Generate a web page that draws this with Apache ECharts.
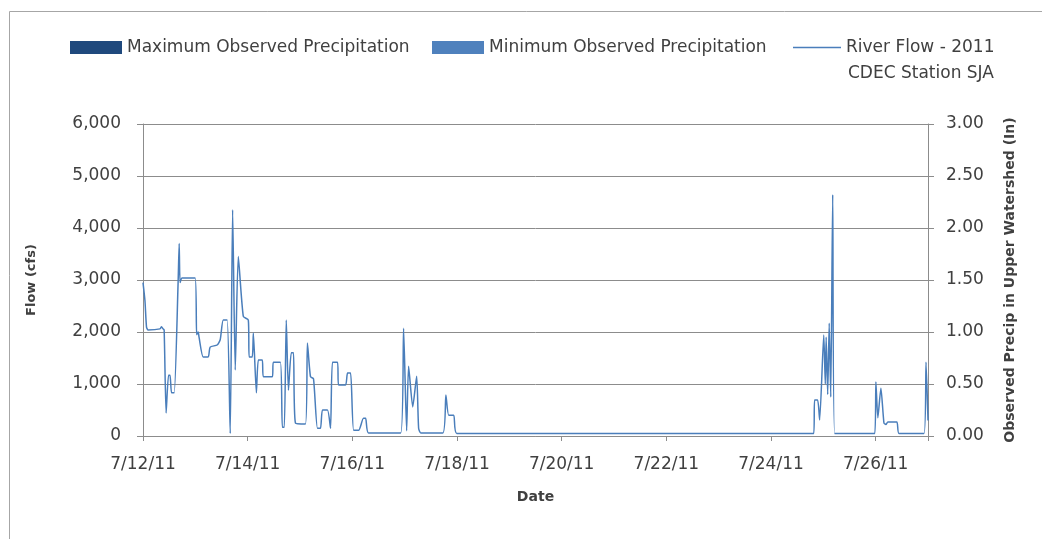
<!DOCTYPE html>
<html>
<head>
<meta charset="utf-8">
<script src="https://cdn.jsdelivr.net/npm/echarts@6/dist/echarts.min.js"></script>
<style>
html,body{margin:0;padding:0;background:#fff;}
#chart{width:1042px;height:539px;}
</style>
</head>
<body>
<div id="chart"></div>
<script>
// Date tick labels (every 2 days starting 7/12/11)
const dateTickLabels = ['7/12/11','7/14/11','7/16/11','7/18/11','7/20/11','7/22/11','7/24/11','7/26/11'];
// Hours since 7/12/11 00:00 for river flow readings
const flowHours = [0.0,0.9,1.6,2.3,7.8,8.5,9.2,9.7,10.6,11.7,12.4,13.1,14.3,16.1,16.6,17.0,17.9,23.9,24.6,25.3,25.7,27.6,29.9,30.8,34.0,35.4,36.8,38.6,40.0,41.1,42.3,43.7,46.0,48.3,48.7,50.1,50.6,52.0,52.9,54.7,55.2,59.3,59.8,63.0,63.9,64.8,65.7,66.7,68.0,69.0,69.9,74.5,75.4,76.8,78.2,80.0,81.4,82.3,84.6,86.0,86.9,89.2,89.7,92.9,93.8,95.2,96.6,98.9,101.1,102.1,103.4,118.2,119.5,120.9,121.8,123.7,125.5,126.4,127.4,137.5,138.9,140.2,142.5,143.9,307.6,308.0,309.4,310.3,312.2,312.9,313.3,314.0,314.7,315.4,316.3,317.2,335.6,336.1,337.0,338.4,339.8,340.7,341.6,345.7,346.7,358.2,359.1,360.0];
// River flow (cfs)
const flowValues = [2950,2600,2100,2040,2060,2100,2060,2040,440,1170,1170,830,830,2950,3700,2950,3040,3040,1950,2000,1900,1520,1520,1710,1750,1850,2230,2230,50,4350,1270,3450,2300,2230,1520,1520,1980,830,1460,1460,1140,1140,1420,1420,170,170,2230,880,1600,1600,250,230,1790,1140,1100,150,150,500,500,150,1420,1420,980,980,1210,1210,110,110,340,340,60,60,2070,100,1340,560,1150,150,60,60,790,400,400,50,50,690,690,310,1940,1000,1900,800,2170,750,4640,50,50,1040,350,920,250,220,270,270,50,50,1420,300];
// Precipitation (in) – no bars visible in the reference
const maxPrecip = [];
const minPrecip = [];

const flowData = flowHours.map((h, i) => [h, flowValues[i]]);

const FONT = 'DejaVu Sans';
const TXT = '#404040';
const GRID = '#8c8c8c';
const LEG = {color: TXT, fontSize: 17, fontFamily: FONT};

const chart = echarts.init(document.getElementById('chart'));
chart.setOption({
  animation: false,
  backgroundColor: '#ffffff',
  textStyle: {fontFamily: FONT},
  grid: {left: 143, right: 114, top: 124, bottom: 103, containLabel: false},
  legend: [
    {left: 70, top: 39, padding: 0, itemWidth: 52, itemHeight: 13, itemGap: 0, icon: 'rect',
     textStyle: LEG, data: ['Maximum Observed Precipitation']},
    {left: 432, top: 39, padding: 0, itemWidth: 52, itemHeight: 13, itemGap: 0, icon: 'rect',
     textStyle: LEG, data: ['Minimum Observed Precipitation']},
    {left: 793, top: 39, padding: 0, itemWidth: 48, itemHeight: 13, itemGap: 0,
     icon: 'path://M0,6 L48,6 L48,7.5 L0,7.5 Z',
     textStyle: LEG, data: ['River Flow - 2011']}
  ],
  graphic: [
    {type: 'rect', left: 7, top: 9, shape: {width: 1100, height: 600}, silent: true,
     style: {fill: 'none', stroke: '#a6a6a6', lineWidth: 1}},
    {type: 'text', left: 848, top: 65, silent: true,
     style: {text: 'CDEC Station SJA', fill: TXT, font: '17px "DejaVu Sans"'}}
  ],
  xAxis: {
    type: 'value', min: 0, max: 360, interval: 48,
    name: 'Date', nameLocation: 'middle', nameGap: 54,
    nameTextStyle: {color: TXT, fontWeight: 'bold', fontSize: 14, fontFamily: FONT},
    axisLine: {show: true, onZero: false, lineStyle: {color: GRID, width: 1}},
    axisTick: {show: true, inside: false, length: 5, lineStyle: {color: GRID}},
    axisLabel: {color: TXT, fontSize: 17, margin: 20, fontFamily: FONT,
      formatter: v => { const i = v / 48; return Number.isInteger(i) && dateTickLabels[i] ? dateTickLabels[i] : ''; }},
    splitLine: {show: false}
  },
  yAxis: [
    {
      type: 'value', min: 0, max: 6000, interval: 1000, position: 'left',
      name: 'Flow (cfs)', nameLocation: 'middle', nameGap: 105, nameRotate: 90,
      nameTextStyle: {color: TXT, fontWeight: 'bold', fontSize: 13, fontFamily: FONT},
      axisLine: {show: true, lineStyle: {color: GRID, width: 1}},
      axisTick: {show: true, inside: false, length: 6, lineStyle: {color: GRID}},
      axisLabel: {color: TXT, fontSize: 17, margin: 22, fontFamily: FONT,
        formatter: v => v.toLocaleString('en-US')},
      splitLine: {show: true, lineStyle: {color: GRID, width: 1}}
    },
    {
      type: 'value', min: 0, max: 3, interval: 0.5, position: 'right',
      name: 'Observed Precip in Upper Watershed (In)', nameLocation: 'middle', nameGap: 75, nameRotate: 90,
      nameTextStyle: {color: TXT, fontWeight: 'bold', fontSize: 14, fontFamily: FONT},
      axisLine: {show: true, lineStyle: {color: GRID, width: 1}},
      axisTick: {show: true, inside: false, length: 6, lineStyle: {color: GRID}},
      axisLabel: {color: TXT, fontSize: 17, margin: 18, fontFamily: FONT,
        formatter: v => v.toFixed(2)},
      splitLine: {show: false}
    }
  ],
  series: [
    {name: 'Maximum Observed Precipitation', type: 'bar', yAxisIndex: 1, data: maxPrecip,
     itemStyle: {color: '#1f497d'}, barWidth: 4},
    {name: 'Minimum Observed Precipitation', type: 'bar', yAxisIndex: 1, data: minPrecip,
     itemStyle: {color: '#4f81bd'}, barWidth: 4},
    {name: 'River Flow - 2011', type: 'line', yAxisIndex: 0, data: flowData,
     showSymbol: false, symbol: 'none', smooth: 0.2,
     lineStyle: {color: '#4a7ebb', width: 1.5}, itemStyle: {color: '#4a7ebb'}}
  ]
});
</script>
</body>
</html>
